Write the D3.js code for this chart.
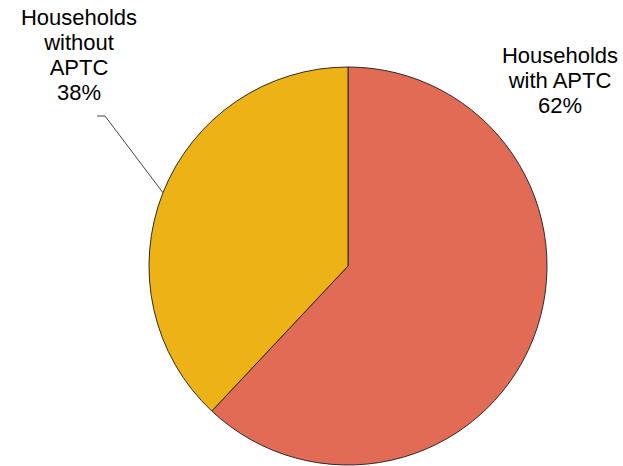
<!DOCTYPE html>
<html>
<head>
<meta charset="utf-8">
<script src="https://cdn.jsdelivr.net/npm/d3@7"></script>
<style>
  html, body { margin: 0; padding: 0; background: #fff; }
  svg { display: block; }
  text { font-family: "Liberation Sans", Arial, sans-serif; fill: #000; }
</style>
</head>
<body>
<div id="chart"></div>
<script>
// Share of households by APTC status
const categories = ["Households with APTC", "Households without APTC"];
const labelLines = [["Households", "with APTC"], ["Households", "without", "APTC"]];
const shares = [62, 38];
const colors = ["#E26B55", "#EDB216"];

const width = 623, height = 466;
const cx = 348, cy = 266, radius = 199;

const svg = d3.select("#chart").append("svg")
  .attr("width", width).attr("height", height);

const g = svg.append("g").attr("transform", `translate(${cx},${cy})`);

const pie = d3.pie().sort(null).value(d => d);
const arcs = pie(shares);
const arc = d3.arc().innerRadius(0).outerRadius(radius);

g.selectAll("path.slice")
  .data(arcs)
  .join("path")
  .attr("class", "slice")
  .attr("d", arc)
  .attr("fill", (d, i) => colors[i])
  .attr("stroke", "#2b2b2b")
  .attr("stroke-width", 1);

// Leader line for the smaller slice, ending on the rim at the slice's mid-angle
const rim = d3.arc().innerRadius(radius).outerRadius(radius);
const [ex, ey] = rim.centroid(arcs[1]);
const leader = [[97 - cx, 116 - cy], [105 - cx, 116 - cy], [ex, ey]];
g.append("path")
  .attr("d", d3.line()(leader))
  .attr("fill", "none")
  .attr("stroke", "#444")
  .attr("stroke-width", 1);

// Labels
const fontSize = 22, lineGap = 25;
const labelPos = [{ x: 560, y: 63 }, { x: 79, y: 25 }];
arcs.forEach((a, i) => {
  const lines = labelLines[i].concat([shares[i] + "%"]);
  const t = svg.append("text")
    .attr("text-anchor", "middle")
    .attr("font-size", fontSize);
  lines.forEach((ln, j) => {
    t.append("tspan")
      .attr("x", labelPos[i].x)
      .attr("y", labelPos[i].y + j * lineGap)
      .text(ln);
  });
});
</script>
</body>
</html>
